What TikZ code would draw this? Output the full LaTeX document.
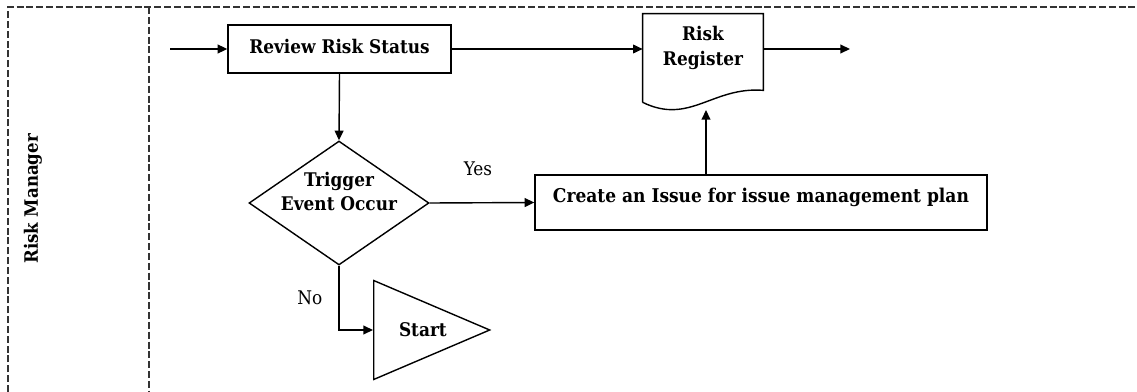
\documentclass[tikz,border=0pt]{standalone}
\usepackage{fontspec}
\setmainfont{DejaVu Serif Condensed}
\usetikzlibrary{shapes.geometric,arrows.meta,calc}

\begin{document}
\begin{tikzpicture} [x=0.02cm,y=-0.02cm,
  font=\fontsize{10.7}{13.8}\selectfont,
  lane/.style={draw=black!80,line width=0.6pt,dash pattern=on 4pt off 1.6pt},
  box/.style={draw,line width=0.8pt,font=\fontsize{10.7}{13.8}\selectfont\bfseries},
  decision/.style={draw,line width=0.8pt,diamond,aspect=1.45,inner sep=0pt,align=center,
    minimum width=3.6cm,minimum height=2.48cm,font=\fontsize{10.7}{13.8}\selectfont\bfseries},
  flow/.style={line width=0.8pt,-{Triangle[length=5.5pt,width=5pt]}}]

\useasboundingbox (0,0) rectangle (1137,392);

% the swim lane
\draw [lane] (8,392)--(8,7)--(1137,7);
\draw [lane] (149,7)--(149,392);
\node [rotate=90,font=\fontsize{10.5}{12}\selectfont\bfseries] (lanename) at (33,199) {Risk Manager};


\node [box, minimum width=4.46cm, minimum height=0.96cm, text height=5.9pt, text depth=1.2pt]
  (review) at (339.5,49) {Review Risk Status};

\node [decision, text height=15pt, text depth=6pt] (trigger) at (339,203) {Trigger\\Event Occur};

\node [box, minimum width=9.04cm, minimum height=1.1cm, text height=8pt, text depth=7.5pt,
  font=\fontsize{10.8}{13.8}\selectfont\bfseries]
  (issue) at (761,202.5) {Create an Issue for issue management plan};

\node [draw, line width=0.8pt, isosceles triangle, isosceles triangle stretches,
  minimum width=1.98cm, minimum height=2.32cm, inner sep=0pt, anchor=lower side,
  font=\fontsize{10.7}{13.8}\selectfont\bfseries] (start) at (373,330) {\hspace*{0.3cm}Start};

% the register (document shape)
\node [minimum width=2.4cm, minimum height=1.76cm, inner sep=0pt, align=center,
  text depth=14.3pt, font=\fontsize{10.7}{14.2}\selectfont\bfseries] (reg) at (703,58) {Risk\\Register};
\draw [line width=0.8pt] (reg.south west)--(reg.north west)--(reg.north east)
  --($(reg.south east)+(0,-12)$) .. controls ($(reg.south east)+(-51,-16)$) and ($(reg.south west)+(47,23)$) .. (reg.south west);


\coordinate (in) at (170,49);
\coordinate (out) at (850,49);
\coordinate (regtip) at (706,110);

\draw [flow] (in)--(review.west);
\draw [flow] (review.east)--(review.east -| reg.west);
\draw [flow] (out -| reg.east)--(out);
\draw [flow] (review.south)--(trigger.north);

\draw [flow] (trigger.east)--node [above=0.53cm, inner sep=0pt, xshift=-0.08cm] (yes) {Yes} (issue.west);
\draw [flow] (trigger.south) |- node [left=0.32cm, pos=0.25, inner sep=0pt] (no) {No} (start.lower side);
\draw [flow] (regtip |- issue.north)--(regtip);

\end{tikzpicture}
\end{document}
